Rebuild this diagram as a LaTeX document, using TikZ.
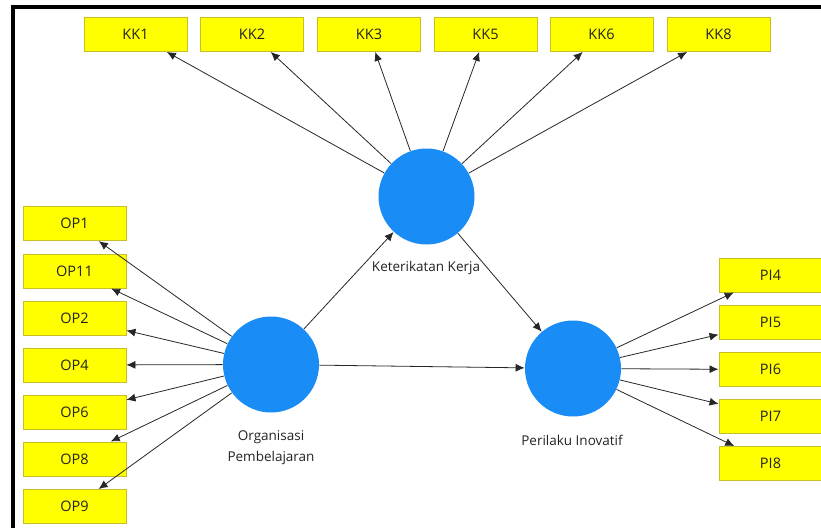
\documentclass[tikz,border=0pt]{standalone}
\usepackage{fontspec}
\setmainfont{Open Sans}
\usepackage{tikz}
\usepackage{xcolor}
\usetikzlibrary{arrows.meta}
\usetikzlibrary{shapes,backgrounds}

\definecolor{boxyellow}{RGB}{255,255,0}
\definecolor{boxedge}{RGB}{200,190,40}
\definecolor{latentblue}{RGB}{25,140,245}
\definecolor{labelgray}{RGB}{35,35,35}

\begin{document}
\begin{tikzpicture}[x=1pt,y=-1pt,->,>={Latex[length=9pt,width=8pt]},
                    line width=0.8pt,draw=black!85,
                    latent/.style={circle,fill=latentblue,draw=none,minimum size=96pt,inner sep=0pt},
                    indicator/.style={rectangle,fill=boxyellow,draw=boxedge,line width=0.9pt,
                                      minimum width=103pt,minimum height=34pt,inner sep=0pt,
                                      text=labelgray,font=\fontsize{14.5}{16}\selectfont},
                    caption/.style={text=labelgray,align=center,font=\fontsize{13.5}{21}\selectfont}]

  \useasboundingbox (0,0) rectangle (821,528);
  \draw[-,line width=3.5pt,black] (13,528) -- (13,7) -- (822,7);

  % latent variables
  \node[latent] (kk) at (426.5,196.5) {};
  \node[latent] (op) at (271,364.5) {};
  \node[latent] (pi) at (573,368.5) {};

  \node[caption] (kklabel) at (426,268) {Keterikatan Kerja};
  \node[caption] (oplabel) at (271,447.5) {Organisasi\\Pembelajaran};
  \node[caption] (pilabel) at (572,440) {Perilaku Inovatif};

  % indicators
  \node[indicator] (kk1) at (135.5,34.5) {KK1};
  \node[indicator] (kk2) at (252,34.5) {KK2};
  \node[indicator] (kk3) at (369,34.5) {KK3};
  \node[indicator] (kk5) at (485.5,34.5) {KK5};
  \node[indicator] (kk6) at (601.5,34.5) {KK6};
  \node[indicator] (kk8) at (718.5,34.5) {KK8};

  \node[indicator] (op1)  at (74.5,223.7) {OP1};
  \node[indicator] (op11) at (74.5,271) {OP11};
  \node[indicator] (op2)  at (74.5,318.3) {OP2};
  \node[indicator] (op4)  at (74.5,365) {OP4};
  \node[indicator] (op6)  at (74.5,412.5) {OP6};
  \node[indicator] (op8)  at (74.5,459) {OP8};
  \node[indicator] (op9)  at (74.5,506.5) {OP9};

  \node[indicator] (pi4) at (770.5,275) {PI4};
  \node[indicator] (pi5) at (770.5,322.5) {PI5};
  \node[indicator] (pi6) at (770.5,369.5) {PI6};
  \node[indicator] (pi7) at (770.5,416.5) {PI7};
  \node[indicator] (pi8) at (770.5,463.5) {PI8};

  \path
    (kk) edge (kk1)
         edge (kk2)
         edge (kk3)
         edge (kk5)
         edge (kk6)
         edge (kk8)
         edge (pi)
    (op) edge (op1)
         edge (op11)
         edge (op2)
         edge (op4)
         edge (op6)
         edge (op8)
         edge (op9)
         edge (kk)
         edge (pi)
    (pi) edge (pi4)
         edge (pi5)
         edge (pi6)
         edge (pi7)
         edge (pi8)
    ;
\end{tikzpicture}
\end{document}
